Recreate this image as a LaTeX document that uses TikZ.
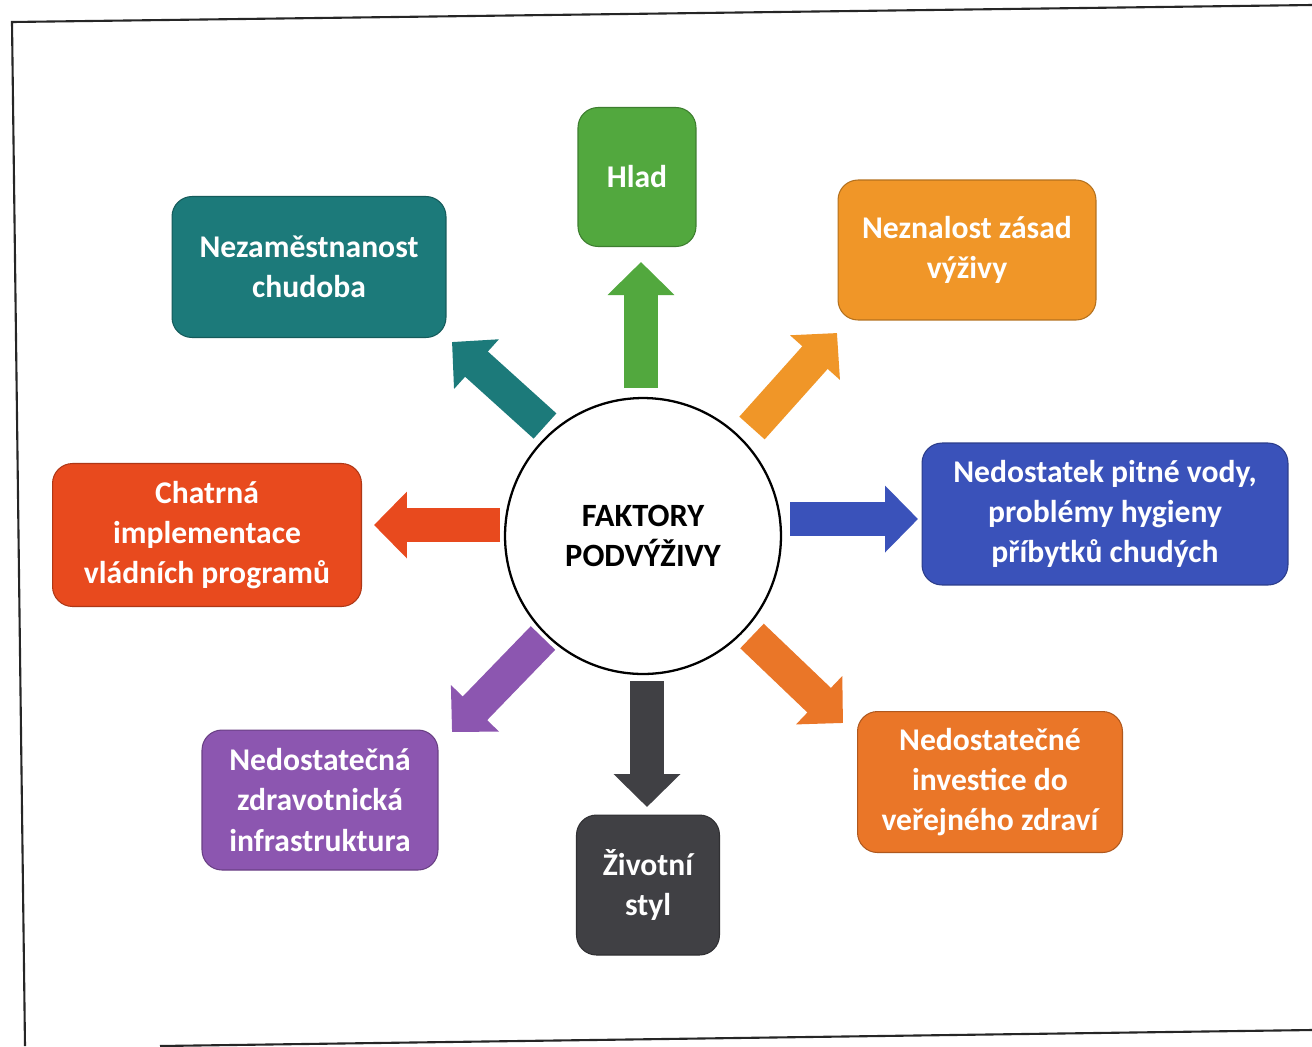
\documentclass[tikz,border=0pt]{standalone}
\usepackage{fontspec}
\setmainfont{Carlito}
\usetikzlibrary{arrows.meta}

\definecolor{hladgreen}{RGB}{82,168,62}
\definecolor{chudteal}{RGB}{28,122,122}
\definecolor{zasorange}{RGB}{240,150,40}
\definecolor{vodablue}{RGB}{58,82,186}
\definecolor{vladred}{RGB}{232,74,30}
\definecolor{invorange}{RGB}{234,118,40}
\definecolor{infpurple}{RGB}{140,86,176}
\definecolor{stylgray}{RGB}{64,64,68}

\begin{document}
\begin{tikzpicture}[
  x=0.02cm,y=-0.02cm,
  box/.style={rounded corners=0.4cm, fill=#1, draw=#1!75!black, line width=0.6pt,
    text=white, align=center, inner sep=0pt,
    font=\bfseries\fontsize{18}{22.8}\selectfont},
  arr/.style={draw=#1, line width=0.68cm,
    -{Triangle[width=1.3cm,length=0.66cm]}},
  frame/.style={black!85, line width=1.2pt}
]
  \fill[white] (0,0) rectangle (1312,1046);
  \useasboundingbox (0,0) rectangle (1312,1046);

  % page frame of the scan
  \draw[frame] (1312,5) -- (12,22) -- (25,1046);
  \draw[frame] (160,1046) -- (1312,1030);

  % centre
  \node[circle, draw=black, line width=1.3pt, fill=white, minimum size=5.52cm,
    align=center, font=\bfseries\fontsize{18.5}{22.4}\selectfont] (fak) at (643,536)
    {FAKTORY\\PODVÝŽIVY};

  % factors
  \node[box=hladgreen, minimum width=2.36cm, minimum height=2.78cm] (hlad) at (637,177) {Hlad};
  \node[box=chudteal, minimum width=5.48cm, minimum height=2.82cm] (chud) at (309,267) {Nezaměstnanost\\chudoba};
  \node[box=zasorange, minimum width=5.16cm, minimum height=2.8cm] (zas) at (967,250) {Neznalost zásad\\výživy};
  \node[box=vodablue, minimum width=7.32cm, minimum height=2.84cm] (voda) at (1105,514) {Nedostatek pitné vody,\\problémy hygieny\\příbytků chudých};
  \node[box=vladred, minimum width=6.18cm, minimum height=2.86cm] (vlad) at (207,535) {Chatrná\\implementace\\vládních programů};
  \node[box=invorange, minimum width=5.3cm, minimum height=2.82cm] (inv) at (990,782) {Nedostatečné\\investice do\\veřejného zdraví};
  \node[box=infpurple, minimum width=4.72cm, minimum height=2.8cm] (inf) at (320,800) {Nedostatečná\\zdravotnická\\infrastruktura};
  \node[box=stylgray, minimum width=2.86cm, minimum height=2.8cm] (styl) at (648,885) {Životní\\styl};

  % arrow ends
  \coordinate (hlad-a) at (641,388);  \coordinate (hlad-b) at (641,262);
  \coordinate (chud-a) at (545,426);  \coordinate (chud-b) at (452,342);
  \coordinate (zas-a) at (752,428);   \coordinate (zas-b) at (837,333);
  \coordinate (voda-a) at (790,519);  \coordinate (voda-b) at (918,519);
  \coordinate (vlad-a) at (500,525);  \coordinate (vlad-b) at (374,525);
  \coordinate (inv-a) at (752,636);   \coordinate (inv-b) at (843,723);
  \coordinate (inf-a) at (543,638);   \coordinate (inf-b) at (452,732);
  \coordinate (styl-a) at (647,681);  \coordinate (styl-b) at (647,807);

  \draw[arr=hladgreen] (hlad-a) -- (hlad-b);
  \draw[arr=chudteal] (chud-a) -- (chud-b);
  \draw[arr=zasorange] (zas-a) -- (zas-b);
  \draw[arr=vodablue] (voda-a) -- (voda-b);
  \draw[arr=vladred] (vlad-a) -- (vlad-b);
  \draw[arr=invorange] (inv-a) -- (inv-b);
  \draw[arr=infpurple] (inf-a) -- (inf-b);
  \draw[arr=stylgray] (styl-a) -- (styl-b);
\end{tikzpicture}
\end{document}
